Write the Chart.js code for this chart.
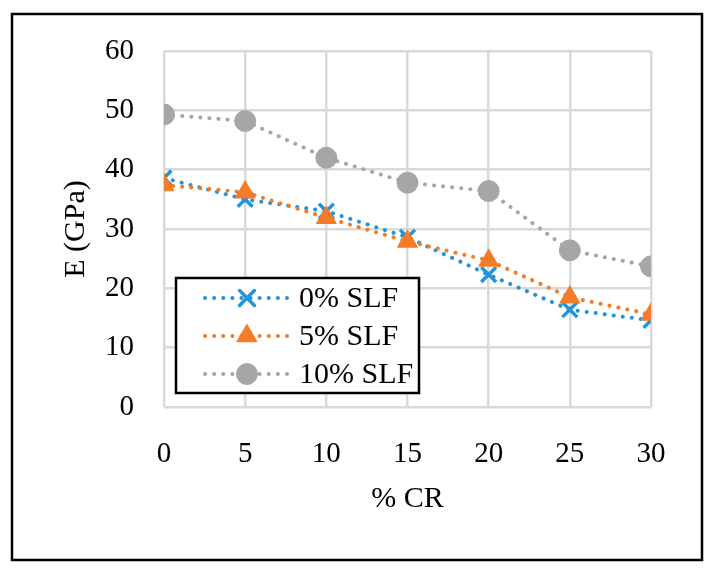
<!DOCTYPE html>
<html>
<head>
<meta charset="utf-8">
<script src="https://cdn.jsdelivr.net/npm/chart.js@4"></script>
<style>
html,body{margin:0;padding:0;background:#fff;}
#wrap{width:716px;height:574px;position:relative;}
</style>
</head>
<body>
<div id="wrap"><canvas id="c" width="716" height="574"></canvas></div>
<script>
const crPercent = [0, 5, 10, 15, 20, 25, 30];
const slf0 = [38.6, 35.0, 33.0, 28.6, 22.3, 16.4, 14.6];
const slf5 = [37.4, 36.2, 31.9, 27.9, 24.7, 18.5, 15.6];
const slf10 = [49.3, 48.2, 42.0, 37.8, 36.4, 26.4, 23.7];
const seriesNames = ['0% SLF', '5% SLF', '10% SLF'];
const yTicks = [0, 10, 20, 30, 40, 50, 60];

const FONT = "'Liberation Serif', 'DejaVu Serif', serif";
const toPts = (xs, ys) => xs.map((x, i) => ({x: x, y: ys[i]}));

const frame = {
  id: 'frame',
  beforeDraw(chart) {
    const ctx = chart.ctx;
    ctx.save();
    ctx.fillStyle = '#fff';
    ctx.fillRect(0, 0, chart.width, chart.height);
    ctx.strokeStyle = '#000';
    ctx.lineWidth = 2.5;
    ctx.strokeRect(12, 14, 690, 546);
    ctx.restore();
  }
};

const boxLegend = {
  id: 'boxLegend',
  afterDraw(chart) {
    const ctx = chart.ctx;
    const bx = 176, by = 278, bw = 243, bh = 115;
    ctx.save();
    ctx.fillStyle = '#fff';
    ctx.fillRect(bx, by, bw, bh);
    ctx.strokeStyle = '#000';
    ctx.lineWidth = 2.5;
    ctx.strokeRect(bx, by, bw, bh);
    chart.data.datasets.forEach((ds, i) => {
      const cy = by + 20 + i * 38;
      const x0 = bx + 29, x1 = bx + 112;
      ctx.beginPath();
      ctx.strokeStyle = ds.borderColor;
      ctx.lineWidth = ds.borderWidth;
      ctx.lineCap = 'round';
      ctx.setLineDash(ds.borderDash);
      ctx.moveTo(x0, cy);
      ctx.lineTo(x1, cy);
      ctx.stroke();
      ctx.setLineDash([]);
      ctx.fillStyle = ds.pointBackgroundColor;
      ctx.strokeStyle = ds.pointBorderColor;
      ctx.lineWidth = ds.pointBorderWidth;
      Chart.helpers.drawPoint(ctx, {
        pointStyle: ds.pointStyle,
        radius: ds.pointRadius,
        borderWidth: ds.pointBorderWidth,
        rotation: 0
      }, bx + 71, cy);
      ctx.fillStyle = '#000';
      ctx.font = '30px ' + FONT;
      ctx.textBaseline = 'middle';
      ctx.textAlign = 'left';
      ctx.fillText(ds.label, bx + 123, cy + 1);
    });
    ctx.restore();
  }
};

const colors = ['#2394D6', '#F47C28', '#A6A6A6'];
const styles = ['crossRot', 'triangle', 'circle'];
const radii = [10.5, 11.5, 10.5];
const pbw = [3.5, 1, 1];
const orders = [2, 1, 3];
const vals = [slf0, slf5, slf10];

const datasets = vals.map((v, i) => ({
  label: seriesNames[i],
  data: toPts(crPercent, v),
  order: orders[i],
  borderColor: colors[i],
  backgroundColor: colors[i],
  borderWidth: 4,
  borderDash: [0.1, 9],
  borderCapStyle: 'round',
  pointStyle: styles[i],
  pointRadius: radii[i],
  pointHoverRadius: radii[i],
  pointBackgroundColor: colors[i],
  pointBorderColor: colors[i],
  pointBorderWidth: pbw[i],
  tension: 0,
  fill: false
}));

new Chart(document.getElementById('c'), {
  type: 'line',
  data: { datasets: datasets },
  options: {
    responsive: false,
    animation: false,
    devicePixelRatio: 1,
    layout: { padding: { left: 58, top: 51, right: 65, bottom: 0 } },
    plugins: {
      legend: { display: false },
      tooltip: { enabled: false }
    },
    scales: {
      x: {
        type: 'linear',
        min: 0, max: 30,
        afterBuildTicks(s) { s.ticks = crPercent.map(v => ({value: v})); },
        afterFit(s) { s.height = 574 - 51 - 356; },
        grid: { color: '#D9D9D9', lineWidth: 2.5, drawTicks: false },
        border: { display: false },
        ticks: { color: '#000', font: { family: FONT, size: 29 }, padding: 30, maxRotation: 0 },
        title: { display: true, text: '% CR', color: '#000', font: { family: FONT, size: 30 }, padding: { top: 0, bottom: 57 } }
      },
      y: {
        min: 0, max: 60,
        afterBuildTicks(s) { s.ticks = yTicks.map(v => ({value: v})); },
        afterFit(s) { s.width = 164 - 58; },
        grid: { color: '#D9D9D9', lineWidth: 2.5, drawTicks: false },
        border: { display: false },
        ticks: { color: '#000', font: { family: FONT, size: 29 }, padding: 30 },
        title: { display: true, text: 'E (GPa)', color: '#000', font: { family: FONT, size: 30 }, padding: 0 }
      }
    }
  },
  plugins: [frame, boxLegend]
});
</script>
</body>
</html>
